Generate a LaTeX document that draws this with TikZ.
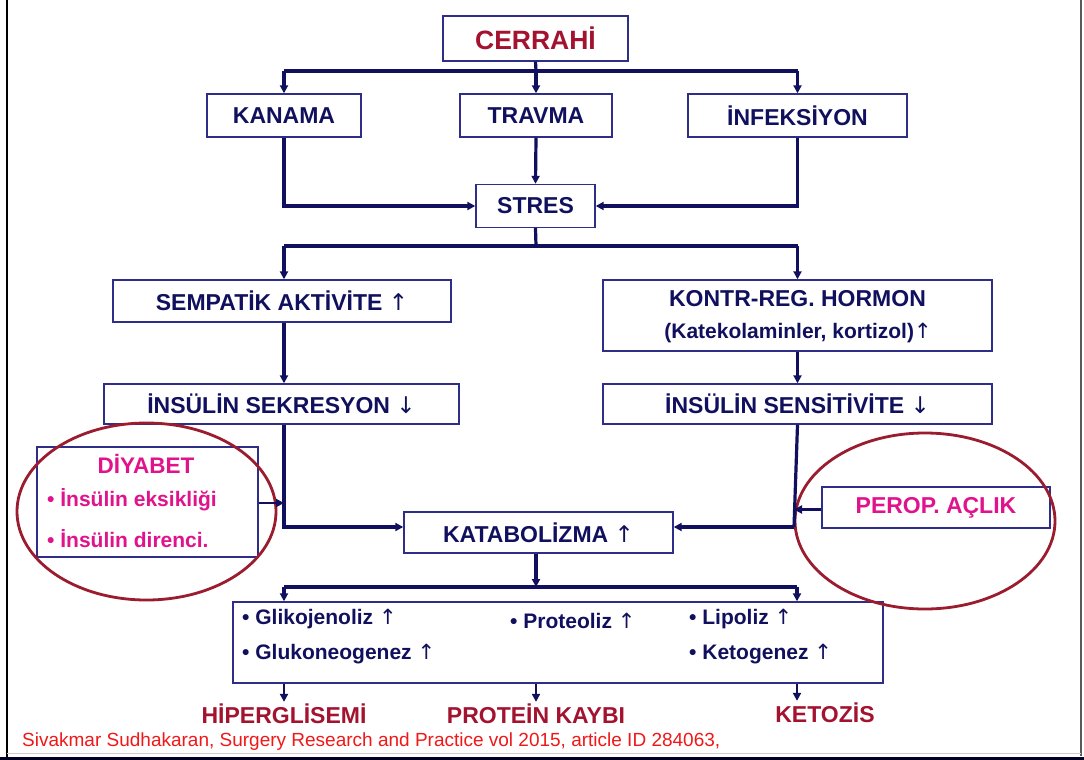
\documentclass[tikz,border=0pt]{standalone}
\usepackage{fontspec}
\setmainfont{Liberation Sans}
\newfontfamily\arrfont{DejaVu Sans}
\newcommand{\upa}{{\arrfont\mdseries ↑}}
\newcommand{\dna}{{\arrfont\mdseries ↓}}
\usetikzlibrary{arrows.meta,shapes.geometric,calc}
\definecolor{navy}{HTML}{10105E}
\definecolor{boxc}{HTML}{2E2E88}
\definecolor{dred}{HTML}{A3122E}
\definecolor{mag}{HTML}{E0138C}
\definecolor{ellc}{HTML}{9A1C2E}
\definecolor{citec}{HTML}{F01818}
\tikzset{
  fbox/.style={draw=boxc, line width=1.4pt, inner sep=0pt, text=navy,
    font=\fontsize{23}{27}\selectfont\bfseries},
  lbl/.style={inner sep=0pt, text=navy, font=\fontsize{23}{27}\selectfont\bfseries},
  sml/.style={inner sep=0pt, text=navy, font=\fontsize{21}{25}\selectfont\bfseries, anchor=west},
  magt/.style={inner sep=0pt, text=mag, font=\fontsize{21}{25}\selectfont\bfseries},
  res/.style={inner sep=0pt, text=dred, font=\fontsize{23}{27}\selectfont\bfseries},
  conn/.style={draw=navy, line width=3.2pt},
  arr/.style={conn, -{Triangle[length=8pt,width=8pt]}},
  ring/.style={draw=ellc, line width=2.8pt, ellipse, inner sep=0pt}
}
\begin{document}
\begin{tikzpicture}[x=1pt,y=-1pt]
\useasboundingbox (0,0) rectangle (1084,760);
\fill[white] (0,0) rectangle (1084,760);
% frame of screenshot
\draw[black, line width=2pt] (6.5,0) -- (6.5,757);
\draw[gray!70!black, line width=1.6pt] (1081,0) -- (1081,756);
\draw[gray!40, line width=1pt] (7,753.5) -- (1081,753.5);
\draw[black!85!blue, line width=3pt] (0,758.5) -- (1084,758.5);

% boxes
\node[fbox, minimum width=185pt, minimum height=45pt, text=dred,
  font=\fontsize{26.5}{30}\selectfont\bfseries] (cerrahi) at (535.5,38.5) {CERRAHİ};
\node[fbox, minimum width=154pt, minimum height=43pt] (kanama) at (284,115.5) {KANAMA};
\node[fbox, minimum width=152pt, minimum height=43pt] (travma) at (536,115.5) {TRAVMA};
\node[fbox, minimum width=219pt, minimum height=43pt] (infeks) at (797.5,115.5) {İNFEKSİYON};
\node[fbox, minimum width=119pt, minimum height=43pt] (stres) at (535.5,206) {STRES};
\node[fbox, minimum width=338pt, minimum height=42pt] (sempatik) at (282,301) {SEMPATİK AKTİVİTE \upa};
\node[fbox, minimum width=389pt, minimum height=71pt] (kontr) at (797.5,315.5) {};
\node[lbl] (kontr1) at (797.5,299) {KONTR-REG. HORMON};
\node[lbl, font=\fontsize{21}{25}\selectfont\bfseries] (kontr2) at (798,333) {(Katekolaminler, kortizol)\upa};
\node[fbox, minimum width=355pt, minimum height=40pt] (sekres) at (281.5,404) {İNSÜLİN SEKRESYON \dna};
\node[fbox, minimum width=389pt, minimum height=40pt] (sensit) at (797.5,404) {İNSÜLİN SENSİTİVİTE \dna};
\node[fbox, minimum width=269pt, minimum height=41pt] (katab) at (538.5,532.5) {KATABOLİZMA \upa};
\node[fbox, minimum width=221pt, minimum height=110pt] (diyabet) at (147.5,502) {};
\node[magt, font=\fontsize{22.5}{26}\selectfont\bfseries] (diy1) at (146,464) {DİYABET};
\node[magt, anchor=west] (diy2) at (47,500) {• İnsülin eksikliği};
\node[magt, anchor=west] (diy3) at (47,539) {• İnsülin direnci.};
\node[fbox, minimum width=228pt, minimum height=41pt, text=mag] (perop) at (936,507.5) {PEROP. AÇLIK};
\node[fbox, minimum width=650pt, minimum height=81pt] (metab) at (558,642.5) {};
\node[sml] (m1) at (242,619) {• Glikojenoliz \upa};
\node[sml] (m2) at (242,654) {• Glukoneogenez \upa};
\node[sml] (m3) at (510,621) {• Proteoliz \upa};
\node[sml] (m4) at (689,619) {• Lipoliz \upa};
\node[sml] (m5) at (689,654) {• Ketogenez \upa};
\node[res] (hiper) at (284,714) {HİPERGLİSEMİ};
\node[res] (prot) at (536,714) {PROTEİN KAYBI};
\node[res] (keto) at (825,713) {KETOZİS};
\node[inner sep=0pt, anchor=west, text=citec, font=\fontsize{19}{22}\selectfont] (cite) at (22,742)
  {Sivakmar Sudhakaran, Surgery Research and Practice vol 2015, article ID 284063,};

% rings
\node[ring, minimum width=259pt, minimum height=177pt] (ring1) at (146.5,511.5) {};
\node[ring, minimum width=260pt, minimum height=176pt] (ring2) at (925,521) {};

% junction coordinates
\coordinate (j1) at (536,71);
\coordinate (j1l) at (284,71);
\coordinate (j1r) at (797.5,71);
\coordinate (j2) at (536,246);
\coordinate (j2l) at (284,246);
\coordinate (j2r) at (797.5,246);
\coordinate (kr) at (794,527);
\coordinate (j3) at (536,587);
\coordinate (j3l) at (284,587);
\coordinate (j3r) at (797,587);

% connectors
\draw[conn] (cerrahi.south) -- (j1);
\draw[conn] (j1l) -- (j1r);
\draw[arr] (j1l) -- (kanama.north);
\draw[arr] (j1) -- (travma.north);
\draw[arr] (j1r) -- (infeks.north);
\draw[arr] (kanama.south) |- (stres.west);
\draw[arr] (travma.south) -- (stres.north);
\draw[arr] (infeks.south) |- (stres.east);
\draw[conn] (stres.south) -- (j2);
\draw[conn] (j2l) -- (j2r);
\draw[arr] (j2l) -- (j2l |- sempatik.north);
\draw[arr] (j2r) -- (kontr.north);
\draw[arr] (sempatik.south -| j2l) -- (sekres.north -| j2l);
\draw[arr] (kontr.south) -- (sensit.north);
\draw[arr] (sekres.south -| j2l) |- ([yshift=5.5pt]katab.west);
\draw[conn] (sensit.south) -- (kr);
\draw[arr] (kr) -- ([yshift=5.5pt]katab.east);
\draw[arr, line width=2.2pt] ([yshift=-1pt]diyabet.east) -- ([yshift=-1pt]diyabet.east -| j2l);
\draw[arr, line width=2.2pt] ([yshift=-2pt]perop.west) -- ([yshift=-2pt]perop.west -| kr);
\draw[arr] (katab.south -| j3) -- (j3);
\draw[conn] (j3l) -- (j3r);
\draw[arr] (j3l) -- (j3l |- metab.north);
\draw[arr] (j3r) -- (j3r |- metab.north);
\draw[arr, line width=2.2pt] (metab.south -| j3l) -- ([yshift=2pt]hiper.north -| j3l);
\draw[arr, line width=2.2pt] (metab.south -| j3) -- ([yshift=2pt]prot.north -| j3);
\draw[arr, line width=2.2pt] (metab.south -| j3r) -- ([yshift=2pt]keto.north -| j3r);
\end{tikzpicture}
\end{document}
